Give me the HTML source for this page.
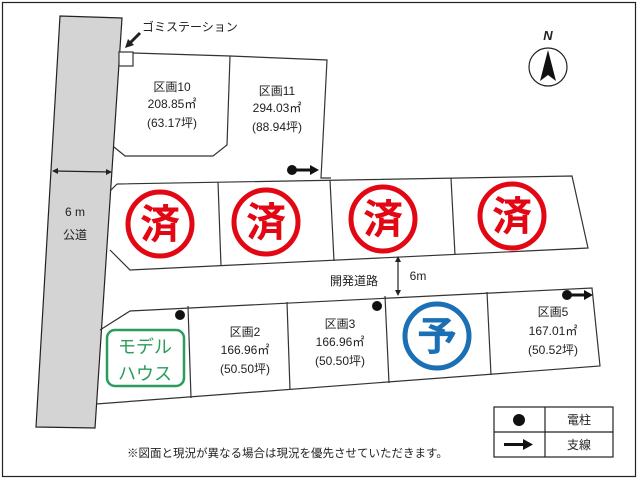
<!DOCTYPE html><html><head><meta charset="utf-8"><style>body{margin:0;background:#fff}svg{display:block}text{font-family:"Liberation Sans","Noto Sans CJK JP",sans-serif;font-size:12px;fill:#222}text.big{font-size:40px;font-weight:bold}</style></head><body>
<svg width="638" height="479" viewBox="0 0 638 479" xmlns="http://www.w3.org/2000/svg">
<rect x="2.5" y="2.5" width="633" height="474" fill="#fff" stroke="#222" stroke-width="1.2"/>
<polygon points="60,16 122,18 95,428 36,427" fill="#d4d4d4" stroke="#222" stroke-width="1.2"/>
<g fill="none" stroke="#333" stroke-width="1.2">
<rect x="119" y="52" width="14" height="14" fill="#fff"/>
<polyline points="133,53 230,56 227,145 213,156 125,156 114,147"/>
<polyline points="230,56 327,60 321,178 331,178"/>
<polyline points="117,184 572,176 588,248 130,270 110,250"/>
<line x1="117" y1="184" x2="110" y2="191"/>
<line x1="218" y1="182" x2="221" y2="266"/><line x1="330" y1="180" x2="334" y2="261"/><line x1="451" y1="178" x2="455" y2="255"/>
<polyline points="100,330 130,311 592,288 600,366 96,404"/>
<line x1="188" y1="306" x2="191" y2="398"/><line x1="287" y1="302" x2="290" y2="390"/><line x1="385" y1="296" x2="389" y2="383"/><line x1="487" y1="292" x2="491" y2="375"/>
</g>
<line x1="140" y1="33" x2="129" y2="44" stroke="#222" stroke-width="3"/><polygon points="125,48 128,39 134,45" fill="#222"/>
<text x="142" y="31">ゴミステーション</text>
<g text-anchor="middle">
<text x="172" y="91">区画10</text><text x="172" y="108">208.85㎡</text><text x="172" y="127">(63.17坪)</text>
<text x="277" y="95">区画11</text><text x="277" y="112">294.03㎡</text><text x="277" y="131">(88.94坪)</text>
<text x="75" y="216">6 m</text><text x="75" y="239">公道</text>
<text x="354" y="285">開発道路</text><text x="418" y="280">6m</text>
<text x="245" y="336">区画2</text><text x="245" y="354">166.96㎡</text><text x="245" y="373">(50.50坪)</text>
<text x="340" y="328">区画3</text><text x="340" y="346">166.96㎡</text><text x="340" y="365">(50.50坪)</text>
<text x="553" y="316">区画5</text><text x="553" y="335">167.01㎡</text><text x="553" y="354">(50.52坪)</text>
</g>
<g stroke="#222" stroke-width="1.2"><line x1="53" y1="171" x2="111" y2="172"/><line x1="398" y1="260" x2="398" y2="292"/></g>
<polygon points="52,171 58,168 58,174" fill="#222"/><polygon points="112,172 106,169 106,175" fill="#222"/>
<polygon points="398,256 395,262 401,262" fill="#222"/><polygon points="398,296 395,290 401,290" fill="#222"/>
<g fill="none" stroke="#e30613" stroke-width="5"><circle cx="160" cy="224" r="32"/><circle cx="266" cy="222" r="32"/><circle cx="383" cy="219" r="32"/><circle cx="512" cy="216" r="32"/></g>
<g text-anchor="middle"><text class="big" x="160" y="238" style="fill:#e30613">済</text><text class="big" x="266" y="236" style="fill:#e30613">済</text><text class="big" x="383" y="233" style="fill:#e30613">済</text><text class="big" x="512" y="230" style="fill:#e30613">済</text>
<text class="big" x="437" y="350" style="fill:#1a6fb5">予</text></g>
<circle cx="437" cy="336" r="32" fill="none" stroke="#1a6fb5" stroke-width="5"/>
<rect x="107" y="330" width="77" height="56" rx="8" fill="none" stroke="#2a9d5c" stroke-width="2.5"/>
<g text-anchor="middle"><text x="145" y="353" style="fill:#2a9d5c;font-size:18px">モデル</text><text x="145" y="380" style="fill:#2a9d5c;font-size:18px">ハウス</text></g>
<g fill="#111"><circle cx="180" cy="315" r="5"/><circle cx="377" cy="306" r="5"/><circle cx="292" cy="170" r="5"/><circle cx="567" cy="295" r="5"/>
<rect x="292" y="168.5" width="20" height="3"/><polygon points="319,170 310,165 310,175"/>
<rect x="567" y="293.5" width="18" height="3"/><polygon points="593,295 584,290 584,300"/></g>
<circle cx="548" cy="67" r="19" fill="none" stroke="#222" stroke-width="1.2"/>
<polygon points="548,50 540,81 548,75 556,81" fill="#111"/>
<text x="548" y="40" text-anchor="middle" style="font-weight:bold;font-style:italic;font-size:13px">N</text>
<g fill="none" stroke="#222" stroke-width="1.2"><rect x="494" y="407" width="119" height="50"/><line x1="545" y1="407" x2="545" y2="457"/><line x1="494" y1="432" x2="613" y2="432"/></g>
<circle cx="519" cy="420" r="6" fill="#111"/>
<rect x="504" y="443" width="20" height="3" fill="#111"/><polygon points="533,444.5 523,439 523,450" fill="#111"/>
<text x="579" y="424" text-anchor="middle">電柱</text><text x="579" y="449" text-anchor="middle">支線</text>
<text x="127" y="457" style="font-size:11.5px">※図面と現況が異なる場合は現況を優先させていただきます。</text>
</svg></body></html>
